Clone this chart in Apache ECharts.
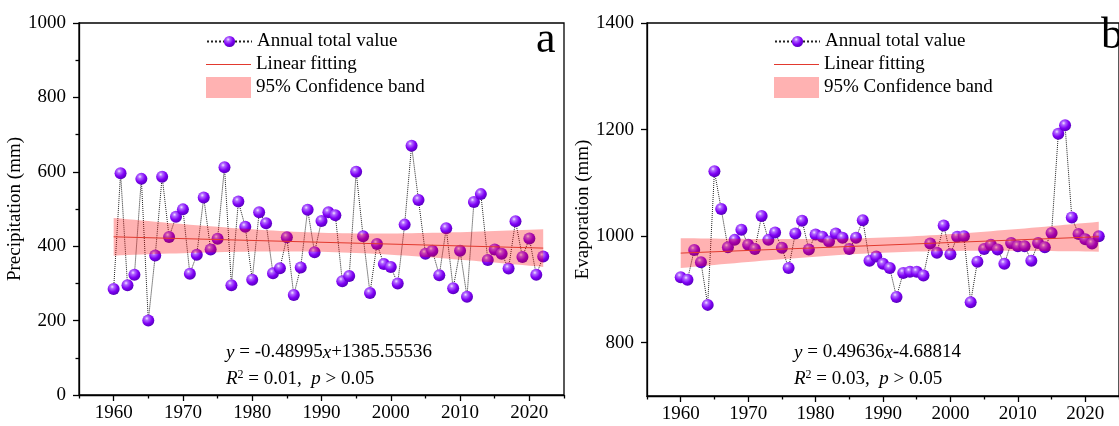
<!DOCTYPE html>
<html>
<head>
<meta charset="utf-8">
<script src="https://cdn.jsdelivr.net/npm/echarts@6/dist/echarts.min.js"></script>
<style>
  html, body { margin: 0; padding: 0; background: #fff; }
  #chart { width: 1119px; height: 426px; }
</style>
</head>
<body>
<div id="chart"></div>
<script>
// Years of record
const years = [
  1960, 1961, 1962, 1963, 1964, 1965, 1966, 1967, 1968, 1969,
  1970, 1971, 1972, 1973, 1974, 1975, 1976, 1977, 1978, 1979,
  1980, 1981, 1982, 1983, 1984, 1985, 1986, 1987, 1988, 1989,
  1990, 1991, 1992, 1993, 1994, 1995, 1996, 1997, 1998, 1999,
  2000, 2001, 2002, 2003, 2004, 2005, 2006, 2007, 2008, 2009,
  2010, 2011, 2012, 2013, 2014, 2015, 2016, 2017, 2018, 2019,
  2020, 2021, 2022
];

// Annual total precipitation (mm)
const precipitation = [
  285, 596, 295, 323, 581, 200, 375, 587, 425, 479,
  499, 326, 377, 531, 391, 420, 612, 295, 520, 452,
  310, 491, 462, 327, 341, 424, 269, 343, 498, 384,
  468, 491, 483, 306, 320, 600, 427, 274, 406, 352,
  344, 300, 458, 670, 524, 380, 388, 322, 448, 287,
  388, 264, 519, 540, 363, 391, 380, 340, 467, 371,
  421, 323, 372
];

// Annual total evaporation (mm)
const evaporation = [
  923, 918, 974, 951, 871, 1122, 1051, 979, 993, 1012,
  984, 976, 1038, 993, 1007, 978, 940, 1005, 1029, 975,
  1003, 999, 990, 1005, 997, 976, 997, 1030, 954, 962,
  948, 940, 886, 931, 933, 933, 926, 986, 969, 1020,
  966, 999, 1000, 876, 952, 976, 984, 975, 948, 987,
  981, 981, 954, 987, 979, 1006, 1192, 1208, 1035, 1004,
  994, 986, 1000
];

// Linear fits: [slope, intercept]
const precipFit = [-0.48995, 1385.55536];
const evapFit = [0.49636, -4.68814];

// Axis tick values
const xMajorTicks = [1960, 1970, 1980, 1990, 2000, 2010, 2020];
const xMinorTicks = [1955, 1965, 1975, 1985, 1995, 2005, 2015, 2025];
const evapMajorTicks = [800, 1000, 1200, 1400];
const evapMinorTicks = [900, 1100, 1300];

const SERIF = "'Liberation Serif', 'DejaVu Serif', serif";
const BAND_COLOR = 'rgba(255, 0, 0, 0.3)';
const FIT_COLOR = '#e2392e';

// 95% confidence band of the fitted mean, from the residuals about the fit line
function confidenceBand(values, fit) {
  const n = values.length;
  const xbar = years.reduce((s, x) => s + x, 0) / n;
  const sxx = years.reduce((s, x) => s + (x - xbar) * (x - xbar), 0);
  const sse = values.reduce((s, v, i) => {
    const r = v - (fit[0] * years[i] + fit[1]);
    return s + r * r;
  }, 0);
  const se = Math.sqrt(sse / (n - 2));
  const t = 1.9996;
  return years.map(x => {
    const f = fit[0] * x + fit[1];
    const h = t * se * Math.sqrt(1 / n + (x - xbar) * (x - xbar) / sxx);
    return [x, f - h, f + h];
  });
}

function fitLine(fit) {
  const x0 = years[0], x1 = years[years.length - 1];
  return [[x0, fit[0] * x0 + fit[1]], [x1, fit[0] * x1 + fit[1]]];
}

const ballColor = {
  type: 'radial', x: 0.38, y: 0.32, r: 0.72,
  colorStops: [
    { offset: 0, color: '#f3e4ff' },
    { offset: 0.22, color: '#b066ff' },
    { offset: 0.6, color: '#7f00f5' },
    { offset: 1, color: '#5200b5' }
  ]
};

function panelSeries(values, fit, axisIdx) {
  const band = confidenceBand(values, fit);
  return [
    {
      name: 'Annual total value',
      type: 'line',
      xAxisIndex: axisIdx.x, yAxisIndex: axisIdx.y,
      data: years.map((y, i) => [y, values[i]]),
      symbol: 'circle', symbolSize: 12, showSymbol: true,
      itemStyle: { color: ballColor },
      lineStyle: { color: '#222', width: 1, type: 'dotted' },
      z: 2, animation: false
    },
    {
      name: '95% Confidence band',
      type: 'custom',
      xAxisIndex: axisIdx.x, yAxisIndex: axisIdx.y,
      data: band,
      encode: { x: 0, y: [1, 2] },
      itemStyle: { color: BAND_COLOR },
      renderItem: function (params, api) {
        if (params.dataIndex !== 0) return null;
        const upper = band.map(b => api.coord([b[0], b[2]]));
        const lower = band.slice().reverse().map(b => api.coord([b[0], b[1]]));
        return {
          type: 'polygon',
          shape: { points: upper.concat(lower) },
          style: { fill: BAND_COLOR }
        };
      },
      z: 3, animation: false, silent: true
    },
    {
      name: 'Linear fitting',
      type: 'line',
      xAxisIndex: axisIdx.x, yAxisIndex: axisIdx.y,
      data: fitLine(fit),
      symbol: 'none',
      itemStyle: { color: FIT_COLOR },
      lineStyle: { color: FIT_COLOR, width: 1 },
      z: 4, animation: false
    }
  ];
}

const axisLineStyle = { color: '#000', width: 1.3 };
const labelStyle = { color: '#000', fontFamily: SERIF, fontSize: 19 };
const plainNumber = v => String(v);

function xAxes(gridIndex) {
  return [
    {
      type: 'value', gridIndex, min: 1955, max: 2025, position: 'bottom',
      axisLine: { show: true, lineStyle: axisLineStyle },
      axisTick: { show: true, length: 6, customValues: xMajorTicks, lineStyle: axisLineStyle },
      axisLabel: Object.assign({ margin: 9, customValues: xMajorTicks, formatter: plainNumber }, labelStyle),
      splitLine: { show: false }
    },
    {
      type: 'value', gridIndex, min: 1955, max: 2025, position: 'bottom',
      axisLine: { show: false },
      axisTick: { show: true, length: 3.5, customValues: xMinorTicks, lineStyle: axisLineStyle },
      axisLabel: { show: false },
      splitLine: { show: false }
    }
  ];
}

// Three stacked legend rows per panel, each with its own icon height
function legendsAt(left) {
  const text = { color: '#000', fontFamily: SERIF, fontSize: 19 };
  const base = { orient: 'vertical', left, padding: 0, itemWidth: 45, selectedMode: false, textStyle: text };
  return [
    Object.assign({}, base, {
      top: 32, itemHeight: 14,
      data: ['Annual total value']
    }),
    Object.assign({}, base, {
      top: 55, itemHeight: 1.2,
      data: [{ name: 'Linear fitting', icon: 'rect', itemStyle: { color: FIT_COLOR } }]
    }),
    Object.assign({}, base, {
      top: 77, itemHeight: 21,
      data: [{ name: '95% Confidence band', icon: 'rect', itemStyle: { color: BAND_COLOR } }]
    })
  ];
}

const eqRich = {
  i: { fontStyle: 'italic', fontFamily: SERIF, fontSize: 19, fill: '#000' },
  sup: { fontFamily: SERIF, fontSize: 12, fill: '#000', verticalAlign: 'top', lineHeight: 20 }
};

function equationText(left, top, fit, r2) {
  const slope = fit[0].toFixed(5);
  const icpt = fit[1] < 0 ? '-' + Math.abs(fit[1]).toFixed(5) : '+' + fit[1].toFixed(5);
  return [
    {
      type: 'text', left, top,
      style: {
        text: '{i|y} = ' + slope + '{i|x}' + icpt,
        rich: eqRich,
        font: '19px ' + SERIF, fill: '#000'
      }
    },
    {
      type: 'text', left, top: top + 26,
      style: {
        text: '{i|R}{sup|2} = ' + r2 + ',  {i|p} > 0.05',
        rich: eqRich,
        font: '19px ' + SERIF, fill: '#000'
      }
    }
  ];
}

const chart = echarts.init(document.getElementById('chart'), null, { renderer: 'canvas' });

chart.setOption({
  backgroundColor: '#fff',
  animation: false,
  grid: [
    { left: 79, top: 23, width: 485, height: 372, show: true, borderColor: '#000', borderWidth: 1.3, backgroundColor: 'transparent' },
    { left: 647, top: 23, width: 481, height: 373, show: true, borderColor: '#000', borderWidth: 1.3, backgroundColor: 'transparent' }
  ],
  xAxis: xAxes(0).concat(xAxes(1)),
  yAxis: [
    {
      type: 'value', gridIndex: 0, min: 0, max: 1000, interval: 200,
      axisLine: { show: true, lineStyle: axisLineStyle },
      axisTick: { show: true, length: 6, lineStyle: axisLineStyle },
      minorTick: { show: true, splitNumber: 2, length: 3.5, lineStyle: axisLineStyle },
      axisLabel: Object.assign({ margin: 13, formatter: plainNumber }, labelStyle),
      splitLine: { show: false },
      name: 'Precipitation (mm)', nameLocation: 'middle', nameGap: 43,
      nameTextStyle: { color: '#000', fontFamily: SERIF, fontSize: 19 }
    },
    {
      type: 'value', gridIndex: 1, min: 700, max: 1400,
      axisLine: { show: true, lineStyle: axisLineStyle },
      axisTick: { show: true, length: 6, customValues: evapMajorTicks, lineStyle: axisLineStyle },
      axisLabel: Object.assign({ margin: 13, customValues: evapMajorTicks, formatter: plainNumber }, labelStyle),
      splitLine: { show: false },
      name: 'Evaporation (mm)', nameLocation: 'middle', nameGap: 43,
      nameTextStyle: { color: '#000', fontFamily: SERIF, fontSize: 19 }
    },
    {
      type: 'value', gridIndex: 1, min: 700, max: 1400,
      axisLine: { show: false },
      axisTick: { show: true, length: 3.5, customValues: evapMinorTicks, lineStyle: axisLineStyle },
      axisLabel: { show: false },
      splitLine: { show: false }
    }
  ],
  legend: legendsAt(206).concat(legendsAt(774)),
  series: panelSeries(precipitation, precipFit, { x: 0, y: 0 })
    .concat(panelSeries(evaporation, evapFit, { x: 2, y: 1 })),
  graphic: [
    { type: 'text', left: 536, top: 18, style: { text: 'a', font: '44px ' + SERIF, fill: '#000' } },
    { type: 'text', left: 1101, top: 14, style: { text: 'b', font: '44px ' + SERIF, fill: '#000' } }
  ].concat(equationText(226, 343, precipFit, '0.01'))
   .concat(equationText(794, 343, evapFit, '0.03'))
});
</script>
</body>
</html>
